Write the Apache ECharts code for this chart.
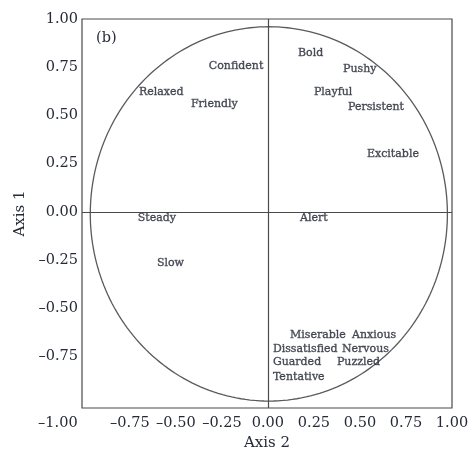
<!DOCTYPE html>
<html>
<head>
<meta charset="utf-8">
<script src="https://cdn.jsdelivr.net/npm/echarts@6/dist/echarts.min.js"></script>
<style>html,body{margin:0;padding:0;background:#fff;}#c{width:470px;height:451px;}</style>
</head>
<body>
<div id="c"></div>
<script>
// Trait words: label anchor (left edge) in Axis 2 (x) / Axis 1 (y) units
var words = ['Confident','Relaxed','Friendly','Bold','Pushy','Playful','Persistent','Excitable',
             'Steady','Alert','Slow','Miserable','Anxious','Dissatisfied','Nervous','Guarded','Puzzled','Tentative'];
var axis2 = [-0.321,-0.701,-0.418,0.163,0.408,0.250,0.435,0.538,
             -0.707,0.174,-0.603,0.120,0.457,0.027,0.402,0.027,0.375,0.027];
var axis1 = [0.756,0.622,0.560,0.824,0.741,0.622,0.544,0.301,
             -0.031,-0.031,-0.264,-0.637,-0.637,-0.710,-0.710,-0.777,-0.777,-0.855];
// Reference circle: centre and radius
var circleCentre = [0.005, -0.01];
var circleRadius = 0.97;
// Tick values and labels
var xTickValues = [-1,-0.75,-0.5,-0.25,0,0.25,0.5,0.75,1];
var xTickLabels = ['\u20131.00','\u20130.75','\u20130.50','\u20130.25','0.00','0.25','0.50','0.75','1.00'];
var yTickValues = [-0.75,-0.5,-0.25,0,0.25,0.5,0.75,1];
var yTickLabels = ['\u20130.75','\u20130.50','\u20130.25','0.00','0.25','0.50','0.75','1.00'];

var pointData = words.map(function(w,i){ return {name:w, value:[axis2[i], axis1[i]]}; });
var textColor = '#252a36';
var lineColor = '#4a4a4a';
var serif = 'DejaVu Serif';

function lookup(vals, labs, v){
  for (var i=0;i<vals.length;i++){ if (Math.abs(vals[i]-v)<1e-6) return labs[i]; }
  return '';
}

var chart = echarts.init(document.getElementById('c'), null, {renderer:'canvas'});
chart.setOption({
  animation:false,
  backgroundColor:'#fff',
  grid:{left:82, right:18, top:19, bottom:43, outerBoundsMode:'none', containLabel:false,
        show:true, borderColor:lineColor, borderWidth:1.2, backgroundColor:'transparent'},
  xAxis:{
    type:'value', min:-1.01, max:1.0,
    axisLine:{show:false}, axisTick:{show:false}, splitLine:{show:false},
    axisLabel:{
      customValues:xTickValues, margin:8, fontFamily:serif, fontSize:14.5, color:textColor,
      formatter:function(v){
        var s = lookup(xTickValues, xTickLabels, v);
        if (Math.abs(v+1)<1e-6) return '{off|'+s+'}';
        return s;
      },
      rich:{off:{fontFamily:serif, fontSize:14.5, color:textColor, padding:[0,52,0,0]}}
    },
    name:'Axis 2', nameLocation:'middle', nameGap:28,
    nameTextStyle:{fontFamily:serif, fontSize:15, color:textColor}
  },
  yAxis:{
    type:'value', min:-1.016, max:1.0,
    axisLine:{show:false}, axisTick:{show:false}, splitLine:{show:false},
    axisLabel:{
      customValues:yTickValues, margin:4, fontFamily:serif, fontSize:14.5, color:textColor,
      formatter:function(v){ return lookup(yTickValues, yTickLabels, v); }
    },
    name:'Axis 1', nameLocation:'middle', nameGap:54, nameRotate:90,
    nameTextStyle:{fontFamily:serif, fontSize:15, color:textColor}
  },
  graphic:[{type:'text', left:96, top:31, style:{text:'(b)', fontFamily:serif, fontSize:14.5, fill:textColor}}],
  series:[
    {
      type:'custom', silent:true, clip:false,
      data:[[circleCentre[0], circleCentre[1], circleRadius]],
      renderItem:function(params, api){
        var c = api.coord([api.value(0), api.value(1)]);
        var r = api.value(2);
        var rx = api.size([r,0])[0], ry = api.size([0,r])[1];
        var pts = [];
        for (var k=0;k<=240;k++){
          var a = k/240*Math.PI*2;
          pts.push([c[0]+rx*Math.cos(a), c[1]+ry*Math.sin(a)]);
        }
        return {type:'polyline', shape:{points:pts}, style:{fill:null, stroke:'#5a5a5a', lineWidth:1.3}};
      },
      z:1
    },
    {
      type:'scatter', data:pointData, symbolSize:0, silent:true,
      label:{show:true, position:'inside', align:'left', verticalAlign:'middle',
        formatter:function(p){return p.name;}, fontFamily:serif, fontSize:11, color:textColor,
        textBorderColor:textColor, textBorderWidth:0.35},
      markLine:{
        silent:true, symbol:['none','none'], label:{show:false},
        lineStyle:{color:lineColor, type:'solid', width:1.2},
        data:[{xAxis:0},{yAxis:0}]
      },
      z:3
    }
  ]
});
</script>
</body>
</html>
